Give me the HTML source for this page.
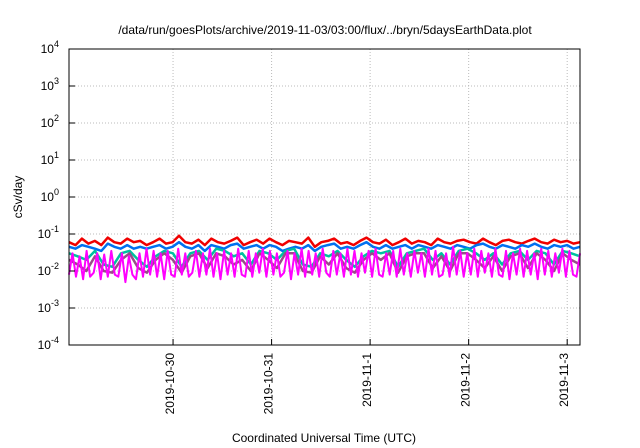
<!DOCTYPE html>
<html><head><meta charset="utf-8"><style>
html,body{margin:0;padding:0;background:#fff;}
svg{display:block;font-family:"Liberation Sans",sans-serif;}
</style></head><body>
<svg id="chart" width="640" height="448" viewBox="0 0 640 448" xmlns="http://www.w3.org/2000/svg">
<rect width="640" height="448" fill="#fff"/>
<text x="325" y="34" font-size="12" text-anchor="middle">/data/run/goesPlots/archive/2019-11-03/03:00/flux/../bryn/5daysEarthData.plot</text>
<text transform="translate(22,197) rotate(-90)" font-size="12" text-anchor="middle">cSv/day</text>
<text x="324" y="442" font-size="12" text-anchor="middle">Coordinated Universal Time (UTC)</text>
<g id="grid"></g><g id="series"></g><g id="axes"></g>
</svg>
<script>
const yDecades=[-4,-3,-2,-1,0,1,2,3,4];
const dayTicks=[0,1,2,3,4];
const dayLabels=["2019-10-30","2019-10-31","2019-11-1","2019-11-2","2019-11-3"];
const seriesNames=["red","blue","teal","purple","magenta"];
const seriesColors=["#f00000","#0070f0","#00c0a0","#9a4a8a","#ff00ff"];
const red=[0.06,0.05,0.075,0.055,0.065,0.05,0.08,0.06,0.055,0.075,0.06,0.065,0.05,0.06,0.075,0.055,0.06,0.09,0.06,0.055,0.07,0.05,0.075,0.06,0.055,0.065,0.08,0.05,0.06,0.07,0.055,0.075,0.06,0.05,0.065,0.06,0.055,0.08,0.045,0.06,0.065,0.075,0.055,0.06,0.05,0.065,0.08,0.06,0.055,0.07,0.05,0.06,0.075,0.055,0.065,0.06,0.05,0.075,0.06,0.055,0.065,0.07,0.06,0.055,0.075,0.06,0.05,0.065,0.07,0.06,0.055,0.065,0.075,0.06,0.055,0.07,0.06,0.065,0.055,0.06];
const blue=[0.045,0.04,0.05,0.045,0.04,0.035,0.055,0.045,0.04,0.05,0.04,0.045,0.04,0.045,0.05,0.04,0.045,0.06,0.045,0.04,0.05,0.035,0.05,0.045,0.04,0.05,0.055,0.04,0.045,0.05,0.04,0.05,0.045,0.035,0.04,0.045,0.04,0.05,0.035,0.045,0.05,0.055,0.04,0.045,0.04,0.05,0.06,0.045,0.04,0.05,0.04,0.045,0.05,0.04,0.05,0.045,0.04,0.05,0.045,0.04,0.05,0.045,0.04,0.05,0.055,0.045,0.04,0.05,0.045,0.04,0.05,0.045,0.055,0.045,0.04,0.05,0.045,0.05,0.04,0.045];
const teal=[0.03,0.025,0.02,0.035,0.015,0.013,0.03,0.035,0.02,0.013,0.025,0.035,0.03,0.013,0.03,0.035,0.02,0.04,0.035,0.025,0.03,0.015,0.035,0.03,0.02,0.035,0.04,0.015,0.013,0.03,0.025,0.035,0.02,0.013,0.025,0.035,0.03,0.035,0.013,0.03,0.035,0.04,0.02,0.03,0.015,0.035,0.04,0.03,0.02,0.03,0.015,0.03,0.035,0.02,0.035,0.03,0.015,0.035,0.03,0.025];
const purple=[0.02,0.015,0.01,0.025,0.01,0.009,0.02,0.03,0.012,0.009,0.02,0.03,0.02,0.009,0.025,0.03,0.012,0.03,0.025,0.015,0.02,0.01,0.03,0.02,0.012,0.03,0.03,0.01,0.009,0.025,0.015,0.03,0.012,0.009,0.02,0.03,0.02,0.03,0.009,0.025,0.03,0.03,0.012,0.025,0.01,0.03,0.03,0.02,0.012,0.025,0.01,0.025,0.03,0.012,0.03,0.02,0.01,0.03,0.02,0.015];
const magenta=[0.008,0.03,0.007,0.025,0.006,0.035,0.007,0.009,0.03,0.006,0.028,0.007,0.035,0.008,0.007,0.03,0.005,0.025,0.008,0.006,0.03,0.007,0.04,0.008,0.035,0.007,0.03,0.006,0.035,0.008,0.007,0.04,0.008,0.03,0.007,0.009,0.035,0.007,0.03,0.008,0.04,0.007,0.03,0.006,0.035,0.008,0.03,0.007,0.04,0.008,0.007,0.035,0.007,0.03,0.009,0.04,0.007,0.035,0.008,0.03,0.007,0.009,0.035,0.006,0.03,0.008,0.04,0.007,0.035,0.008,0.03,0.007,0.04,0.009,0.007,0.035,0.008,0.03,0.007,0.04,0.008,0.035,0.007,0.03,0.009,0.035,0.007,0.04,0.008,0.007,0.03,0.008,0.035,0.007,0.04,0.008,0.03,0.007,0.035,0.009,0.03,0.007,0.04,0.008,0.035,0.007,0.008,0.03,0.007,0.045,0.008,0.035,0.007,0.03,0.008,0.04,0.007,0.035,0.009,0.03,0.007,0.04,0.008,0.007,0.035,0.006,0.03,0.008,0.04,0.007,0.035,0.008,0.03,0.006,0.04,0.008,0.035,0.007,0.03,0.009,0.04,0.007,0.035,0.008,0.007,0.03];
const seriesData=[red,blue,teal,purple,magenta];
const NS="http://www.w3.org/2000/svg";
const L=69,R=580,T=49,B=345,xmin=-1.056,xmax=4.13;
function xs(d){return L+(d-xmin)/(xmax-xmin)*(R-L);}
function ys(v){return B-(Math.log10(v)+4)/8*(B-T);}
function mk(tag,attrs,parent){const e=document.createElementNS(NS,tag);for(const k in attrs)e.setAttribute(k,attrs[k]);parent.appendChild(e);return e;}
const grid=document.getElementById('grid'),ax=document.getElementById('axes'),sg=document.getElementById('series');
yDecades.forEach(p=>{const y=ys(Math.pow(10,p));
 if(p>-4&&p<4){const g=mk('line',{x1:L,x2:R,y1:y,y2:y,stroke:'#bbb','stroke-dasharray':'1,2'},grid);
 
 }
 const t=mk('line',{x1:L,x2:L+6,y1:y,y2:y,stroke:'#000'},ax);
 
 
 const tx=mk('text',{x:L-10,y:y+4,'font-size':'12','text-anchor':'end'},ax);
 
 
 tx.innerHTML='10<tspan dy="-6" font-size="9">'+p+'</tspan>';
});
dayTicks.forEach((d,i)=>{const x=xs(d);
 const g=mk('line',{x1:x,x2:x,y1:T,y2:B,stroke:'#bbb','stroke-dasharray':'1,2'},grid);
 
 
 const t=mk('line',{x1:x,x2:x,y1:B,y2:B-6,stroke:'#000'},ax);
 
 
 const tx=mk('text',{transform:'translate('+(x+1)+','+(B+8)+') rotate(-90)','font-size':'12','text-anchor':'end'},ax);
 
 
 tx.textContent=dayLabels[i];
});
const fr=mk('rect',{x:L,y:T,width:R-L,height:B-T,fill:'none',stroke:'#000'},ax);


seriesData.forEach((arr,si)=>{const n=arr.length;
 const pts=arr.map((v,i)=>xs(xmin+(xmax-xmin)*i/(n-1)).toFixed(1)+','+ys(v).toFixed(1)).join(' ');
 const pl=mk('polyline',{points:pts,fill:'none',stroke:seriesColors[si],'stroke-width':si===4?'2':'2.5','stroke-linejoin':'round'},sg);
 
 
});
</script>
</body></html>
